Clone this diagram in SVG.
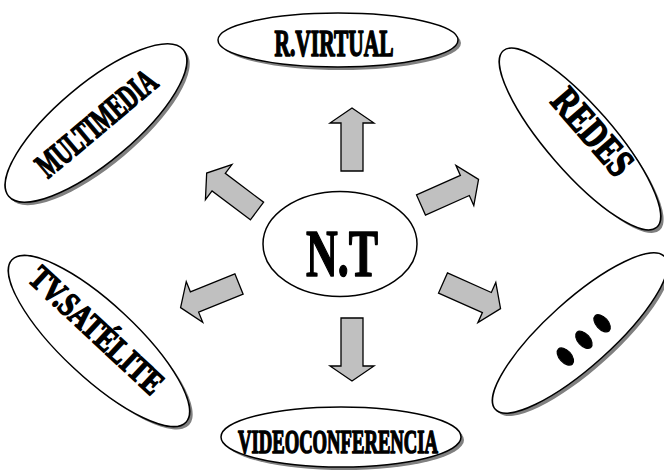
<svg xmlns="http://www.w3.org/2000/svg" width="664" height="474" viewBox="0 0 664 474">
  <style>
    .shadow { fill: #808080; }
    .oval { fill: #ffffff; stroke: #000000; stroke-width: 1.5; }
    .arrow { fill: #c0c0c0; stroke: #000000; stroke-width: 1.3; stroke-linejoin: miter; }
    .lbl { font-family: "Liberation Serif", "Times New Roman", serif; font-weight: bold; fill: #000000; stroke: #000000; stroke-width: 1.6; stroke-linejoin: round; text-anchor: middle; }
  </style>
  <defs>
    <!-- block arrow pointing along +x, tail centred on the origin -->
    <polygon id="blockArrow" class="arrow" points="0,-11 48,-11 48,-22 63,0 48,22 48,11 0,11"/>
  </defs>

  <rect width="664" height="474" fill="#ffffff"/>

  <!-- connectors: arrows radiating from the centre -->
  <g id="connectors">
    <use href="#blockArrow" transform="translate(352,171) rotate(-90)"/>
    <use href="#blockArrow" transform="translate(352,318) rotate(90)"/>
    <use href="#blockArrow" transform="translate(257,211) rotate(-143)"/>
    <use href="#blockArrow" transform="translate(421,205) rotate(-24)"/>
    <use href="#blockArrow" transform="translate(239,284) rotate(158)"/>
    <use href="#blockArrow" transform="translate(443,283) rotate(24)"/>
  </g>

  <!-- centre node -->
  <g id="node-nt">
    <ellipse class="oval" cx="340" cy="244" rx="77" ry="52.5"/>
    <text class="lbl" x="342" y="276" font-size="68" stroke-width="2" textLength="72" lengthAdjust="spacingAndGlyphs">N.T</text>
  </g>

  <g id="node-rvirtual">
    <ellipse class="shadow" cx="341" cy="43" rx="120" ry="27"/>
    <ellipse class="oval" cx="338" cy="40" rx="120" ry="27"/>
    <text class="lbl" x="334" y="56" font-size="37" textLength="119" lengthAdjust="spacingAndGlyphs">R.VIRTUAL</text>
  </g>

  <g id="node-videoconferencia">
    <ellipse class="shadow" cx="344" cy="440" rx="120" ry="30"/>
    <ellipse class="oval" cx="341" cy="437" rx="120" ry="30"/>
    <text class="lbl" x="338" y="453" font-size="33" textLength="200" lengthAdjust="spacingAndGlyphs">VIDEOCONFERENCIA</text>
  </g>

  <g id="node-multimedia" transform="translate(96,123) rotate(-40)">
    <ellipse class="shadow" cx="0.2" cy="4.2" rx="114" ry="39"/>
    <ellipse class="oval" cx="0" cy="0" rx="114" ry="39"/>
    <text class="lbl" x="0" y="12" font-size="35" textLength="146" lengthAdjust="spacingAndGlyphs">MULTIMEDIA</text>
  </g>

  <g id="node-redes" transform="translate(580,139) rotate(49)">
    <ellipse class="shadow" cx="4.2" cy="-0.2" rx="117" ry="33"/>
    <ellipse class="oval" cx="0" cy="0" rx="117" ry="33"/>
    <text class="lbl" x="3" y="-1" font-size="40" textLength="102" lengthAdjust="spacingAndGlyphs">REDES</text>
  </g>

  <g id="node-tvsatelite" transform="translate(99,341) rotate(43)">
    <ellipse class="shadow" cx="4.2" cy="0" rx="119" ry="37"/>
    <ellipse class="oval" cx="0" cy="0" rx="119" ry="37"/>
    <text class="lbl" x="-9" y="5" font-size="34" textLength="170" lengthAdjust="spacingAndGlyphs">TV.SATÉLITE</text>
  </g>

  <g id="node-more" transform="translate(580,333) rotate(-42)">
    <ellipse class="shadow" cx="0.2" cy="4.2" rx="114" ry="33"/>
    <ellipse class="oval" cx="0" cy="0" rx="114" ry="33"/>
    <text class="lbl" x="2" y="16" font-size="125" letter-spacing="10" transform="scale(0.6,1)">...</text>
  </g>
</svg>
